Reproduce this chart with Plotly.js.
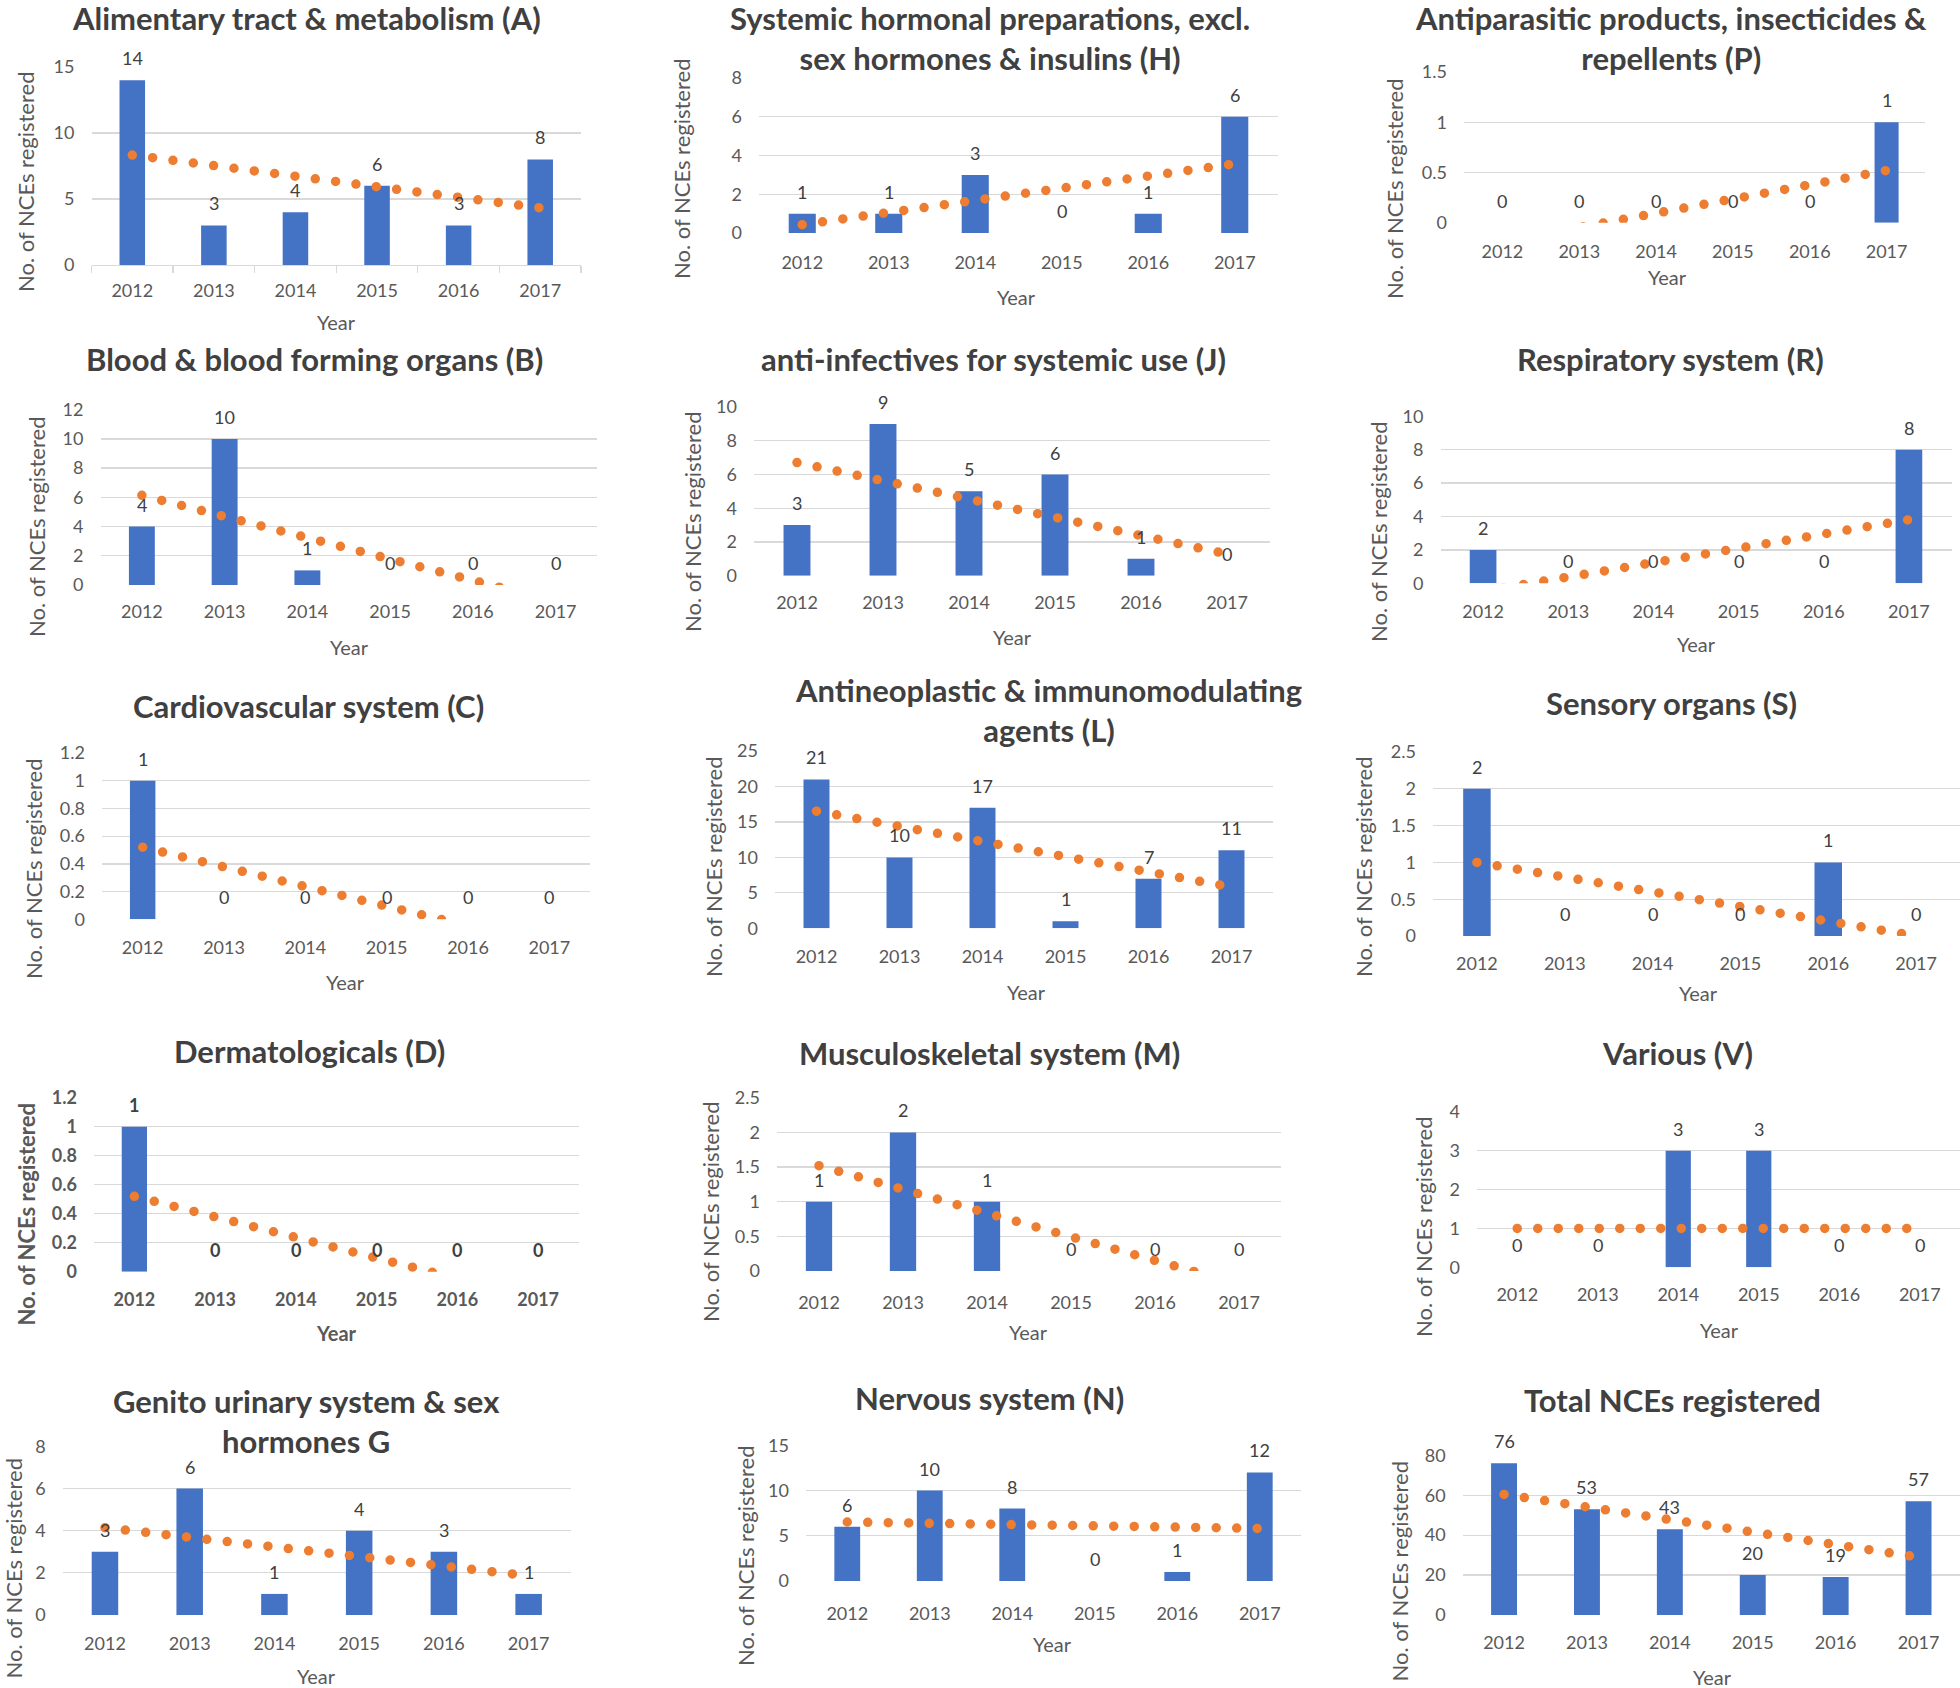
<!DOCTYPE html>
<html><head><meta charset="utf-8">
<script src="https://cdn.plot.ly/plotly-3.0.1.min.js"></script>
<style>
html,body{margin:0;padding:0;background:#fff;}
#chart{width:1960px;height:1688px;}
.scatterlayer .js-line{stroke-linecap:round !important;}
</style></head><body><div id="chart"></div>
<script>
// ---------- data ----------
const years = ['2012','2013','2014','2015','2016','2017'];

const valuesA = [14, 3, 4, 6, 3, 8];
const valuesH = [1, 1, 3, 0, 1, 6];
const valuesP = [0, 0, 0, 0, 0, 1];
const valuesB = [4, 10, 1, 0, 0, 0];
const valuesJ = [3, 9, 5, 6, 1, 0];
const valuesR = [2, 0, 0, 0, 0, 8];
const valuesC = [1, 0, 0, 0, 0, 0];
const valuesL = [21, 10, 17, 1, 7, 11];
const valuesS = [2, 0, 0, 0, 1, 0];
const valuesD = [1, 0, 0, 0, 0, 0];
const valuesM = [1, 2, 1, 0, 0, 0];
const valuesV = [0, 0, 3, 3, 0, 0];
const valuesG = [3, 6, 1, 4, 3, 1];
const valuesN = [6, 10, 8, 0, 1, 12];
const valuesTotal = [76, 53, 43, 20, 19, 57];

// linear trendline values at 2012 and 2017
const trendA = [8.33, 4.33];
const trendH = [0.43, 3.57];
const trendP = [-0.19, 0.52];
const trendB = [6.14, -1.14];
const trendJ = [6.71, 1.29];
const trendR = [-0.48, 3.81];
const trendC = [0.52, -0.19];
const trendL = [16.52, 5.81];
const trendS = [1.0, 0.0];
const trendD = [0.52, -0.19];
const trendM = [1.52, -0.19];
const trendV = [1.0, 1.0];
const trendG = [4.14, 1.86];
const trendN = [6.52, 5.81];
const trendTotal = [60.38, 28.95];

const titleA = 'Alimentary tract & metabolism (A)';
const titleH = 'Systemic hormonal preparations, excl.<br>sex hormones & insulins (H)';
const titleP = 'Antiparasitic products, insecticides &<br>repellents (P)';
const titleB = 'Blood & blood forming organs (B)';
const titleJ = 'anti-infectives for systemic use (J)';
const titleR = 'Respiratory system (R)';
const titleC = 'Cardiovascular system (C)';
const titleL = 'Antineoplastic & immunomodulating<br>agents (L)';
const titleS = 'Sensory organs (S)';
const titleD = 'Dermatologicals (D)';
const titleM = 'Musculoskeletal system (M)';
const titleV = 'Various (V)';
const titleG = 'Genito urinary system & sex<br>hormones G';
const titleN = 'Nervous system (N)';
const titleTotal = 'Total NCEs registered';

const yAxisTitle = 'No. of NCEs registered';
const xAxisTitle = 'Year';

// ---------- panel geometry (pixels) ----------
// box: [left, right, topGridY, zeroY]; xs = extra x tick label offset
const panels = [
  {title:titleA, v:valuesA, t:trendA, ymax:15,  dt:5,   box:[91.5,581,66.7,265],   tp:[306,18],   yt:[26,182],   xt:[336,322], ticksA:true},
  {title:titleH, v:valuesH, t:trendH, ymax:8,   dt:2,   box:[759,1278,77.7,233],   tp:[990,38.5], yt:[681,169],  xt:[1017,297], xs:1},
  {title:titleP, v:valuesP, t:trendP, ymax:1.5, dt:0.5, box:[1464,1925,71.7,222.7],tp:[1671,38.5],yt:[1394,189], xt:[1667,277]},
  {title:titleB, v:valuesB, t:trendB, ymax:12,  dt:2,   box:[100.5,597,409.3,585], tp:[314,359],  yt:[36,527],   xt:[349,647], xs:-2},
  {title:titleJ, v:valuesJ, t:trendJ, ymax:10,  dt:2,   box:[754,1270,406.7,575.7],tp:[993,359],  yt:[692,522],  xt:[1012,637], xs:-2},
  {title:titleR, v:valuesR, t:trendR, ymax:10,  dt:2,   box:[1440.5,1951.5,416,583.3],tp:[1670,359],yt:[1378,532],xt:[1696,644]},
  {title:titleC, v:valuesC, t:trendC, ymax:1.2, dt:0.2, box:[102,590,752.7,919.3], tp:[308.5,705.5],yt:[34,869], xt:[345.5,981.7]},
  {title:titleL, v:valuesL, t:trendL, ymax:25,  dt:5,   box:[775,1273,750.7,928.3],tp:[1048,710],yt:[713,867], xt:[1026,991.7]},
  {title:titleS, v:valuesS, t:trendS, ymax:2.5, dt:0.5, box:[1433,1960,751.7,936], tp:[1671,703], yt:[1363,867], xt:[1698,993], xs:-1},
  {title:titleD, v:valuesD, t:trendD, ymax:1.2, dt:0.2, box:[94,578.5,1097.3,1271.7],tp:[309.6,1050.5],yt:[25.5,1215],xt:[336,1333], bold:true, xs:-1},
  {title:titleM, v:valuesM, t:trendM, ymax:2.5, dt:0.5, box:[777,1281,1097.5,1271], tp:[989,1053], yt:[710,1212], xt:[1028,1332], xs:3},
  {title:titleV, v:valuesV, t:trendV, ymax:4,   dt:1,   box:[1477,1960,1111.7,1267.3],tp:[1677,1053.3],yt:[1423,1227],xt:[1719,1330], xs:-1},
  {title:titleG, v:valuesG, t:trendG, ymax:8,   dt:2,   box:[62.6,571,1446,1615],  tp:[306,1421],yt:[12.5,1569],xt:[316,1676]},
  {title:titleN, v:valuesN, t:trendN, ymax:15,  dt:5,   box:[806,1301,1445,1581],  tp:[989,1398], yt:[745,1556], xt:[1052,1644], xs:4},
  {title:titleTotal, v:valuesTotal, t:trendTotal, ymax:80, dt:20, box:[1462.6,1960,1455,1615], tp:[1672,1400], yt:[1398.5,1572], xt:[1712.6,1676.7], xs:-1}
];

const W = 1960, H = 1688;
const FONT = 'Lato, "Open Sans", sans-serif';
const BAR = '#4472C4', TREND = '#ED7D31', GRID = '#D9D9D9', TICK = '#595959', DARK = '#404040';

const traces = [];
const annotations = [];
const layout = {
  width: W, height: H,
  margin: {l:0, r:0, t:0, b:0},
  paper_bgcolor: '#ffffff', plot_bgcolor: '#ffffff',
  showlegend: false, bargap: 0.687,
  font: {family: FONT, color: TICK}
};

panels.forEach((p, idx) => {
  const n = idx + 1;
  const xa = 'x' + (n > 1 ? n : '');
  const ya = 'y' + (n > 1 ? n : '');
  const xk = 'xaxis' + (n > 1 ? n : '');
  const yk = 'yaxis' + (n > 1 ? n : '');
  const w = p.bold ? 700 : 400;
  const [l, r, top, bot] = p.box;
  const xs = p.xs || 0;

  layout[xk] = {
    domain: [l / W, Math.min(1, r / W)], anchor: ya, type: 'category',
    categoryorder: 'array', categoryarray: years,
    range: [-0.5, 5.5], showgrid: false, zeroline: false,
    showline: !!p.ticksA, linecolor: GRID, linewidth: 1.3,
    ticks: p.ticksA ? 'outside' : '', tickson: 'boundaries', ticklen: 7, tickcolor: GRID, tickwidth: 1.3,
    ticklabelstandoff: (p.ticksA ? 9 : 16) + xs,
    tickfont: {family: FONT, size: 18, color: TICK, weight: w},
    fixedrange: true
  };
  layout[yk] = {
    domain: [1 - bot / H, 1 - top / H], anchor: xa,
    range: [0, p.ymax * 1.002], tick0: 0, dtick: p.dt,
    showgrid: true, gridcolor: GRID, gridwidth: 1.3, zeroline: false, showline: false,
    ticks: '', ticklabelstandoff: 16,
    tickfont: {family: FONT, size: 18, color: TICK, weight: w},
    fixedrange: true
  };

  traces.push({
    type: 'bar', x: years, y: p.v, xaxis: xa, yaxis: ya,
    marker: {color: BAR, line: {width: 0}}, hoverinfo: 'skip'
  });
  traces.push({
    type: 'scatter', mode: 'lines', x: [years[0], years[years.length - 1]], y: p.t,
    xaxis: xa, yaxis: ya, line: {color: TREND, width: 9.5, dash: '0px,20.5px'}, hoverinfo: 'skip'
  });

  p.v.forEach((val, j) => {
    annotations.push({
      xref: xa, yref: ya, x: j, y: val, text: String(val), showarrow: false,
      xanchor: 'center', yanchor: 'middle', yshift: 22,
      font: {family: FONT, size: 18, color: DARK, weight: w}
    });
  });

  annotations.push({
    xref: 'paper', yref: 'paper', x: p.tp[0] / W, y: 1 - p.tp[1] / H,
    xanchor: 'center', yanchor: 'middle', text: p.title, showarrow: false,
    font: {family: FONT, size: 31, color: DARK, weight: 700}
  });
  annotations.push({
    xref: 'paper', yref: 'paper', x: p.yt[0] / W, y: 1 - p.yt[1] / H,
    xanchor: 'center', yanchor: 'middle', text: yAxisTitle, textangle: -90, showarrow: false,
    font: {family: FONT, size: 22, color: TICK, weight: w}
  });
  annotations.push({
    xref: 'paper', yref: 'paper', x: p.xt[0] / W, y: 1 - p.xt[1] / H,
    xanchor: 'center', yanchor: 'middle', text: xAxisTitle, showarrow: false,
    font: {family: FONT, size: 20, color: TICK, weight: w}
  });
});

layout.annotations = annotations;
Plotly.newPlot('chart', traces, layout, {displayModeBar: false, staticPlot: true});
</script>
</body></html>
